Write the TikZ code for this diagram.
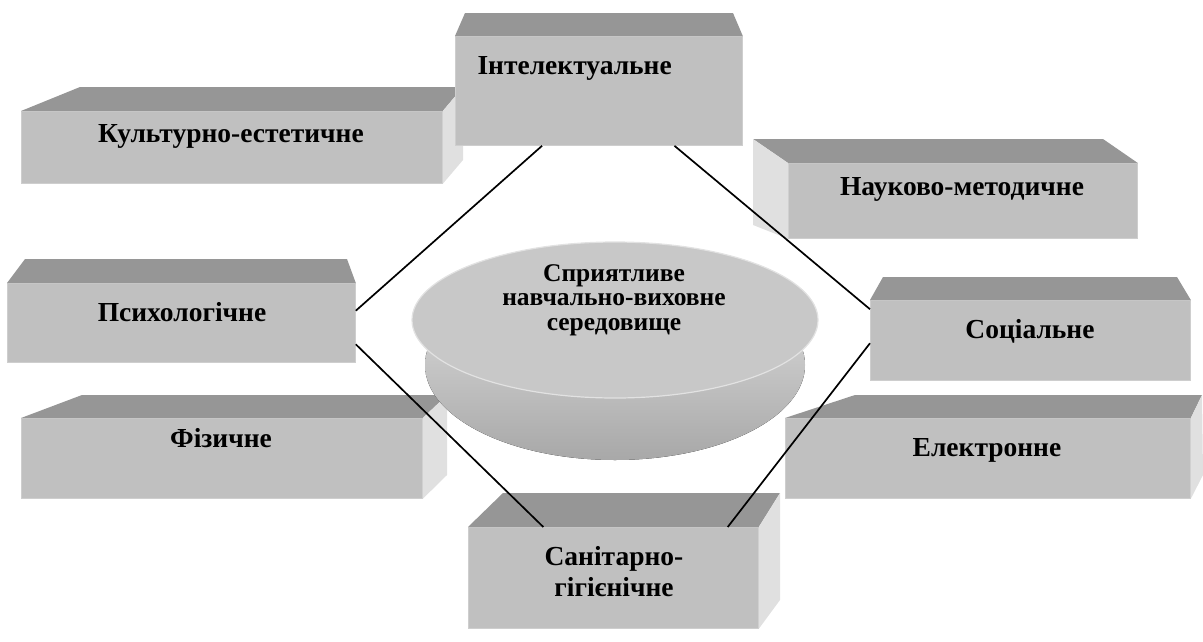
\documentclass[tikz,border=0pt]{standalone}
\usepackage{fontspec}
\setmainfont{Liberation Serif}
\usepackage{tikz}
\usetikzlibrary{shapes.geometric}
\definecolor{frontgray}{RGB}{192,192,192}
\definecolor{topgray}{RGB}{150,150,150}
\definecolor{sidegray}{RGB}{224,224,224}
\definecolor{edgegray}{RGB}{206,206,206}
\definecolor{discgray}{RGB}{200,200,200}
\definecolor{rimlight}{RGB}{226,226,226}
\definecolor{rimdark}{RGB}{168,168,168}
\tikzset{
    front/.style={ % front face of every block
        rectangle,
        anchor=north west,
        inner sep=0pt,
        fill=frontgray,
        draw=edgegray,
        line width=0.8pt
    },
    topface/.style={fill=topgray},
    sideface/.style={fill=sidegray},
    blocktext/.style={font=\fontsize{27.5}{31}\selectfont\bfseries, align=center},
    link/.style={draw, line width=1.7pt}
}

\begin{document}
\begin{tikzpicture}[x=1pt, y=-1pt]
    \useasboundingbox (0,0) rectangle (1203,641);

    % blocks, back ones first
    \node[front, minimum width=421pt, minimum height=72pt] (cult) at (21,111) {};
    \fill[topface] (cult.north west) -- (80,87) -- (463,87) -- (cult.north east) -- cycle;
    \fill[sideface] (cult.north east) -- (463,87) -- (463,160) -- (cult.south east) -- cycle;
    \node[blocktext, anchor=base] (cult-t) at (231,142) {Культурно-естетичне};

    \node[front, minimum width=287pt, minimum height=109pt] (intel) at (455,36) {};
    \fill[topface] (intel.north west) -- (465,13) -- (733,13) -- (intel.north east) -- cycle;
    \node[blocktext, anchor=base west] (intel-t) at (474,74) {Інтелектуальне};

    \node[front, minimum width=349pt, minimum height=75pt] (nauk) at (788,163) {};
    \fill[topface] (nauk.north west) -- (753,139) -- (1103,139) -- (nauk.north east) -- cycle;
    \fill[sideface] (nauk.north west) -- (753,139) -- (753,225) -- (nauk.south west) -- cycle;
    \node[blocktext, anchor=base] (nauk-t) at (962,195) {Науково-методичне};

    \node[front, minimum width=348pt, minimum height=79pt] (psych) at (7,283) {};
    \fill[topface] (psych.north west) -- (25,259) -- (347,259) -- (psych.north east) -- cycle;
    \node[blocktext, anchor=base] (psych-t) at (182,321) {Психологічне};

    \node[front, minimum width=320pt, minimum height=80pt] (soc) at (870,300) {};
    \fill[topface] (soc.north west) -- (883,277) -- (1177,277) -- (soc.north east) -- cycle;
    \node[blocktext, anchor=base] (soc-t) at (1030,338) {Соціальне};

    \node[front, minimum width=401pt, minimum height=80pt] (fiz) at (21,418) {};
    \fill[topface] (fiz.north west) -- (82,395) -- (447,395) -- (fiz.north east) -- cycle;
    \fill[sideface] (fiz.north east) -- (447,395) -- (447,475) -- (fiz.south east) -- cycle;
    \node[blocktext, anchor=base] (fiz-t) at (221,447) {Фізичне};

    \node[front, minimum width=405pt, minimum height=80pt] (elek) at (785,418) {};
    \fill[topface] (elek.north west) -- (855,395) -- (1202,395) -- (elek.north east) -- cycle;
    \fill[sideface] (elek.north east) -- (1202,395) -- (1203,475) -- (elek.south east) -- cycle;
    \node[blocktext, anchor=base] (elek-t) at (987,456) {Електронне};

    \node[front, minimum width=290pt, minimum height=101pt] (san) at (468,527) {};
    \fill[topface] (san.north west) -- (503,493) -- (780,493) -- (san.north east) -- cycle;
    \fill[sideface] (san.north east) -- (780,493) -- (780,600) -- (san.south east) -- cycle;
    \node[blocktext] (san-t) at (614,572) {Санітарно-\\гігієнічне};

    % the disc in the middle
    \fill[top color=rimlight, bottom color=rimdark] (615,365) ellipse [x radius=190, y radius=95];
    \node[ellipse, minimum width=406pt, minimum height=156pt, fill=discgray,
          draw=rimlight, line width=1.2pt] (env) at (615,320) {};
    \node[font=\fontsize{25.5}{24.5}\selectfont\bfseries, align=center] (env-t) at (614,300)
        {Сприятливе\\навчально-виховне\\середовище};

    % connectors
    \draw[link] (intel.224) -- (psych.4);
    \draw[link] (intel.324.5) -- (soc.169.4);
    \draw[link] (psych.-7.4) -- (san.144.6);
    \draw[link] (soc.181.8) -- (san.24.9);
\end{tikzpicture}
\end{document}
